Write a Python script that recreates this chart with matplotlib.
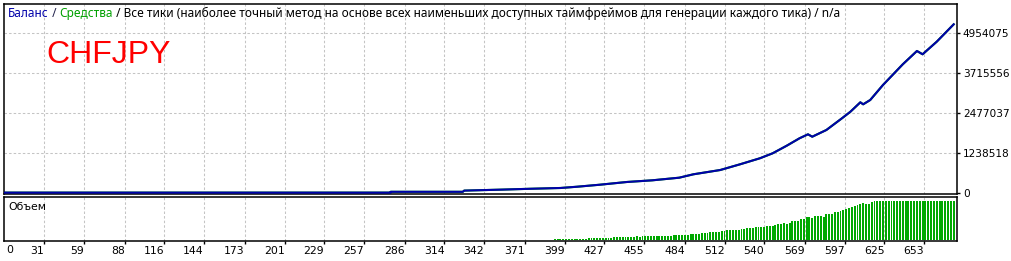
import matplotlib
matplotlib.use('Agg')
import matplotlib.pyplot as plt

# --- style ---
BALANCE_COLOR = '#0000aa'
EQUITY_COLOR = '#00a000'
VOLUME_COLOR = '#00a800'
GRID_COLOR = '#c4c4c4'
TEXT_COLOR = '#000000'
SYMBOL_COLOR = '#ff0000'
FONT = 'DejaVu Sans'
HEADER_FONT = 'Noto Sans'

# --- data ---
trade_idx = [0, 276, 276, 327, 328, 355, 374, 396, 408, 424, 443, 461, 480,
             490, 509, 523, 537, 546, 556, 565, 571, 574, 584, 595, 601, 608,
             610, 615, 624, 638, 648, 652, 662, 674]
balance = [12000, 12000, 37000, 37000, 74000, 105000, 130000, 155000, 195000,
           257000, 341000, 393000, 474000, 579000, 712000, 889000, 1075000,
           1229000, 1465000, 1694000, 1817000, 1743000, 1951000, 2313000,
           2517000, 2808000, 2746000, 2880000, 3344000, 3985000, 4397000,
           4295000, 4685000, 5223000]

volume_start = 392
volume_step = 2
volumes = [1, 1, 1, 1, 1, 1, 1, 1, 1, 1, 1, 1,
           2, 2, 2, 2, 2, 2, 2, 2, 2,
           3, 3, 3, 3, 3, 3, 3, 3, 4, 3,
           4, 4, 4, 4, 4, 4, 4, 4, 4, 4, 4,
           5, 5, 5, 5, 5, 5, 6, 6, 6, 6, 7, 7, 7, 8, 8, 8, 8, 9, 9,
           10, 10, 10, 10, 10, 11, 11, 12, 12, 12, 13, 13, 13, 13,
           14, 14, 14, 15, 16, 16, 17, 16, 17, 19, 19, 19, 21, 21,
           23, 23, 22, 24, 24, 24, 23, 26, 26, 26, 28, 28, 29, 30,
           31, 32, 33, 34, 35, 36, 37, 36, 36, 38,
           39, 39, 39, 39, 39, 39, 39, 39, 39, 39, 39, 39, 39, 39, 39,
           39, 39, 39, 39, 39, 39, 39, 39, 39, 39, 39, 39, 39, 39]
volume_x = [volume_start + volume_step * i for i in range(len(volumes))]

x_tick_labels = ['31', '59', '88', '116', '144', '173', '201', '229', '257',
                 '286', '314', '342', '371', '399', '427', '455', '484', '512',
                 '540', '569', '597', '625', '653']
y_tick_labels = ['0', '1238518', '2477037', '3715556', '4954075']

symbol = 'CHFJPY'
header_parts = [('Баланс', BALANCE_COLOR), (' / ', '#20204a'),
                ('Средства', EQUITY_COLOR),
                (' / Все тики (наиболее точный метод на основе всех наименьших '
                 'доступных таймфреймов для генерации каждого тика) / n/a', TEXT_COLOR)]

# --- figure / axes in pixel terms ---
W, H, DPI = 1012, 261, 100
fig = plt.figure(figsize=(W / DPI, H / DPI), dpi=DPI)
fig.patch.set_facecolor('white')


def px_rect(x0, y0, x1, y1):
    return [x0 / W, 1 - y1 / H, (x1 - x0) / W, (y1 - y0) / H]


ax = fig.add_axes(px_rect(4, 4, 957, 193.5))
axv = fig.add_axes(px_rect(4, 196.5, 957, 241), sharex=ax)

x_ticks = [int(t) for t in x_tick_labels]
y_ticks = [int(t) for t in y_tick_labels]
x_unit = (x_ticks[-1] - x_ticks[0]) / (len(x_ticks) - 1)   # per 40 px
ax.set_xlim(x_ticks[0] - x_unit, x_ticks[0] - x_unit + 953 / 40 * x_unit)
y_px = y_ticks[1] / 40
ax.set_ylim(-0.5 * y_px, 189 * y_px)

# grids
for a in (ax, axv):
    a.set_xticks(x_ticks)
    a.grid(axis='x', color=GRID_COLOR, linewidth=0.75, linestyle=(0, (2.4, 2.0)))
    a.set_axisbelow(True)
    for s in a.spines.values():
        s.set_color('black')
        s.set_linewidth(1.1)
for y in y_ticks[1:]:
    ax.axhline(y, color=GRID_COLOR, linewidth=0.75, linestyle=(0, (2.4, 2.0)), zorder=0)

# balance / equity
ax.plot(trade_idx, balance, color=EQUITY_COLOR, linewidth=1.5, zorder=2)
ax.plot(trade_idx, balance, color=BALANCE_COLOR, linewidth=1.5, zorder=3)

# volume bars
axv.bar(volume_x, volumes, width=1.35, color=VOLUME_COLOR, zorder=2)
axv.set_ylim(-1, 43.5)
axv.set_yticks([])

# ticks
ax.yaxis.tick_right()
ax.set_yticks(y_ticks)
ax.set_yticklabels(y_tick_labels)
ax.tick_params(axis='y', direction='out', length=2.2, width=1, pad=2.0,
               labelsize=7.6, labelcolor=TEXT_COLOR, labelfontfamily=FONT)
ax.tick_params(axis='x', length=0, labelbottom=False)

axv.set_xticklabels(x_tick_labels)
axv.tick_params(axis='x', direction='out', length=2.2, width=1, pad=1.5,
                labelsize=7.8, labelcolor=TEXT_COLOR, labelfontfamily=FONT)
for lbl in axv.get_xticklabels():
    lbl.set_horizontalalignment('right')
fig.text(6 / W, 1 - 250 / H, '0', fontsize=7.8, family=FONT, color=TEXT_COLOR,
         ha='left', va='center')

# texts
fig.text(46 / W, 1 - 63 / H, symbol, fontsize=23, family='Liberation Sans',
         color=SYMBOL_COLOR, ha='left', va='baseline')
fig.text(8 / W, 1 - 207 / H, 'Объем', fontsize=7.8, family=FONT,
         color=TEXT_COLOR, ha='left', va='center')

# header: fit the coloured pieces into the width seen in the report
renderer = fig.canvas.get_renderer()
size = 8.0
probe = [fig.text(0, 0, t, fontsize=size, family=HEADER_FONT) for t, _ in header_parts]
total = sum(p.get_window_extent(renderer).width for p in probe)
for p in probe:
    p.remove()
size = size * 832 / total
x = 8
for t, c in header_parts:
    txt = fig.text(x / W, 1 - 13.5 / H, t, fontsize=size, family=HEADER_FONT,
                   color=c, ha='left', va='center')
    x += txt.get_window_extent(renderer).width

fig.savefig('out.png', dpi=DPI, facecolor='white')
